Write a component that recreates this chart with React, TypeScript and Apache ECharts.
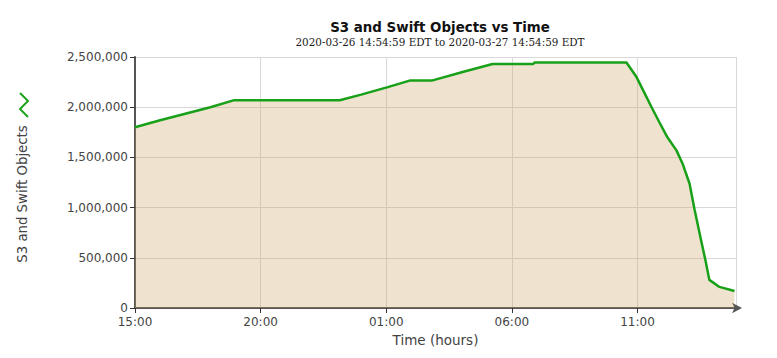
import React, { useEffect, useRef } from "react";
import * as echarts from "echarts";

// hours since 2020-03-26 15:00 EDT
const hours = [
  0, 1, 2, 3, 3.95, 8.15, 9.0, 10.06, 10.93, 11.81, 13.04, 14.23, 15.85, 15.9, 19.56,
  19.96, 20.28, 20.56, 20.87, 21.19, 21.55, 21.79, 22.07, 22.27, 22.5, 22.7, 22.86, 23.26, 23.86,
];
const objects = [
  1800000, 1870000, 1935000, 2000000, 2070000, 2070000, 2125000, 2200000, 2265000, 2265000, 2350000, 2430000, 2430000, 2445000, 2445000,
  2300000, 2140000, 2000000, 1850000, 1700000, 1570000, 1440000, 1240000, 980000, 710000, 480000, 280000, 210000, 170000,
];
const yTicks = [0, 500000, 1000000, 1500000, 2000000, 2500000];
const xStartHour = 15;
const xMax = 23.92;

const title = "S3 and Swift Objects vs Time";
const subtitle = "2020-03-26 14:54:59 EDT to 2020-03-27 14:54:59 EDT";
const yName = "S3 and Swift Objects";
const xName = "Time (hours)";

export default function App() {
  const ref = useRef<HTMLDivElement>(null);
  useEffect(() => {
    if (!ref.current) return;
    const chart = echarts.init(ref.current, undefined, { renderer: "svg" });
    const font = "DejaVu Sans";
    chart.setOption({
      animation: false,
      backgroundColor: "#ffffff",
      title: [
        {
          text: title,
          left: 435,
          top: 16,
          textAlign: "center",
          textStyle: { fontFamily: font, fontSize: 13.4, fontWeight: "bold", color: "#111" },
        },
        {
          text: subtitle,
          left: 435,
          top: 32,
          textAlign: "center",
          textStyle: { fontFamily: "DejaVu Serif", fontSize: 10.4, fontWeight: "normal", color: "#222" },
        },
      ],
      grid: { left: 135, right: 41, top: 57, bottom: 50 },
      xAxis: {
        type: "value",
        min: 0,
        max: xMax,
        interval: 5,
        name: xName,
        nameLocation: "middle",
        nameGap: 16,
        nameTextStyle: { fontFamily: font, fontSize: 13.5, color: "#444" },
        axisLine: {
          show: true,
          symbol: ["none", "arrow"],
          symbolSize: [8, 10],
          symbolOffset: [0, 6],
          lineStyle: { color: "#555", width: 2 },
        },
        axisTick: { show: true, length: 5, inside: false, lineStyle: { color: "#333" } },
        axisLabel: {
          fontFamily: font,
          fontSize: 12,
          color: "#444",
          margin: 8,
          showMaxLabel: false,
          formatter: (v: number) => {
            const h = (xStartHour + Math.round(v)) % 24;
            return (h < 10 ? "0" : "") + h + ":00";
          },
        },
        splitLine: { show: true, lineStyle: { color: "#d8d8d8", width: 1 } },
      },
      yAxis: {
        type: "value",
        min: 0,
        max: 2500000,
        interval: 500000,
        axisLine: { show: true, lineStyle: { color: "#555", width: 2 } },
        axisTick: { show: true, length: 5, lineStyle: { color: "#333" } },
        axisLabel: {
          fontFamily: font,
          fontSize: 12,
          color: "#444",
          margin: 7,
          formatter: (v: number) => (yTicks.includes(v) ? v.toLocaleString("en-US") : ""),
        },
        splitLine: { show: true, lineStyle: { color: "#d8d8d8", width: 1 } },
      },
      graphic: [
        {
          type: "polyline",
          shape: { points: [[20, 93], [28, 101], [20, 109], [28, 117]] },
          style: { stroke: "#1fa31f", lineWidth: 2, fill: "none" },
        },
        {
          type: "text",
          x: 22,
          y: 194,
          rotation: Math.PI / 2,
          style: {
            text: yName,
            fontFamily: font,
            fontSize: 13.3,
            fill: "#444",
            align: "center",
            verticalAlign: "middle",
          },
        },
      ],
      series: [
        {
          type: "line",
          data: hours.map((h, i) => [h, objects[i]]),
          showSymbol: false,
          lineStyle: { color: "#18a018", width: 2.5 },
          areaStyle: { color: "rgba(202,162,98,0.3)", opacity: 1 },
          z: 3,
        },
      ],
    });
    return () => chart.dispose();
  }, []);
  return <div ref={ref} style={{ position: "absolute", left: 0, top: 0, width: 777, height: 358 }} />;
}
